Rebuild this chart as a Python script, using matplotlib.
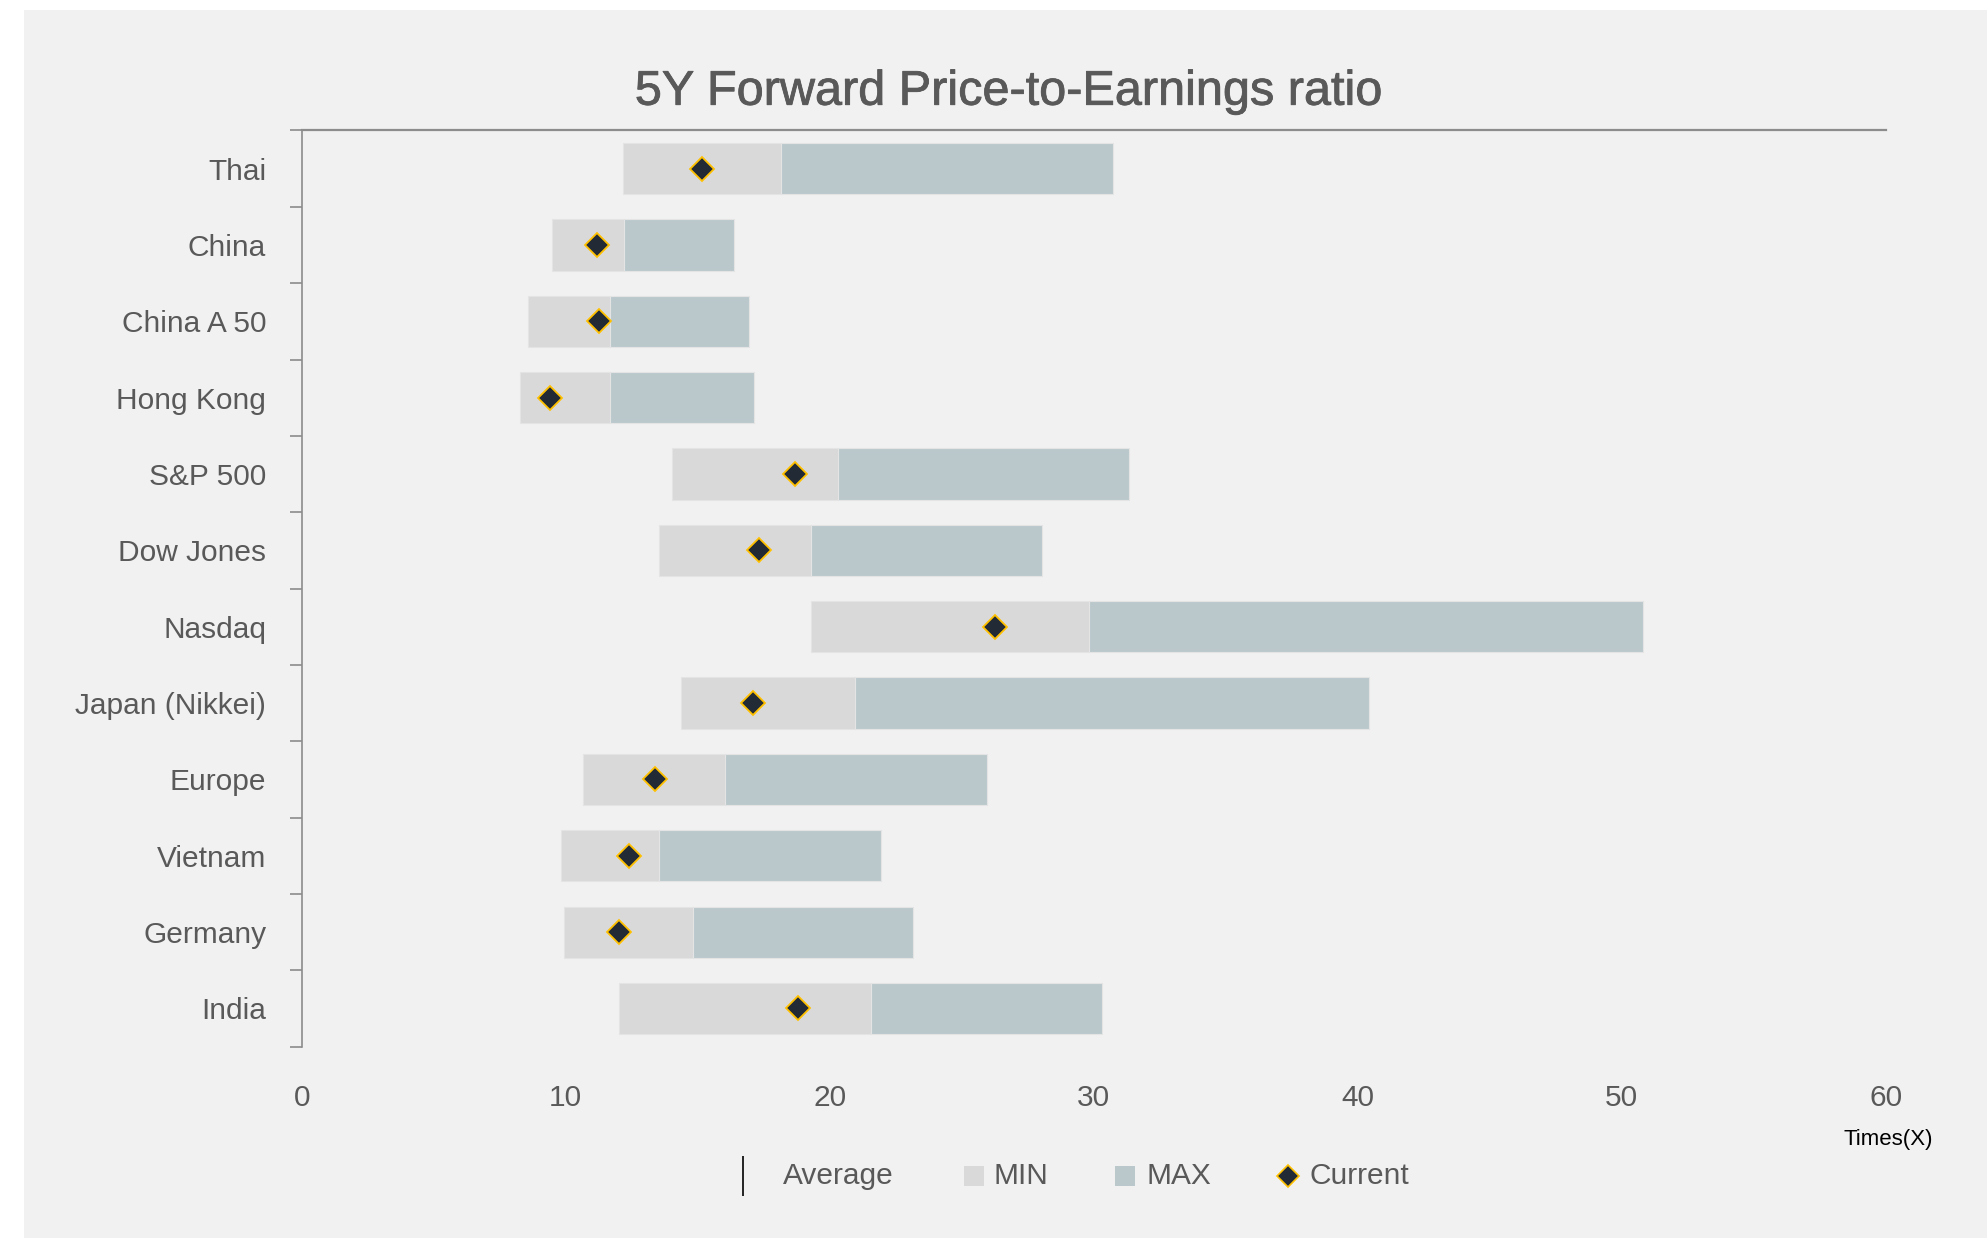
import matplotlib
matplotlib.use("Agg")
import matplotlib.pyplot as plt
from matplotlib.lines import Line2D
from matplotlib.patches import Rectangle
import matplotlib.patheffects as pe

plt.rcParams['font.family'] = ['Liberation Sans', 'DejaVu Sans']

categories = ["Thai", "China", "China A 50", "Hong Kong", "S&P 500", "Dow Jones",
              "Nasdaq", "Japan (Nikkei)", "Europe", "Vietnam", "Germany", "India"]
min_vals = [12.17, 9.48, 8.56, 8.28, 14.02, 13.54, 19.28, 14.36, 10.65, 9.83, 9.95, 12.01]
avg_vals = [18.15, 12.22, 11.67, 11.67, 20.30, 19.30, 29.84, 20.97, 16.04, 13.55, 14.82, 21.58]
max_vals = [30.72, 16.36, 16.95, 17.14, 31.34, 28.03, 50.80, 40.42, 25.95, 21.95, 23.17, 30.30]
current_vals = [15.16, 11.20, 11.25, 9.42, 18.67, 17.33, 26.27, 17.08, 13.40, 12.39, 12.01, 18.79]
x_ticks = [0, 10, 20, 30, 40, 50, 60]
legend_labels = ["Average", "MIN", "MAX", "Current"]

MIN_C = "#d9d9d9"
MAX_C = "#bac8cc"
DIA_FACE = "#222a35"
DIA_EDGE = "#ffc000"
TXT = "#595959"
BG = "#f1f1f1"
SPINE = "#8c8c8c"

fig = plt.figure(figsize=(19.87, 12.38), dpi=100, facecolor="white")
fig.patches.append(Rectangle((24 / 1987, 0), 1 - 24 / 1987, 1 - 10 / 1238,
                             transform=fig.transFigure, facecolor=BG,
                             edgecolor="none", zorder=-10))

ax = fig.add_axes([0.1518, 0.1546, 0.949 - 0.1518, 0.8946 - 0.1546])
ax.set_facecolor(BG)

y = list(range(len(categories)))
min_w = [a - m for a, m in zip(avg_vals, min_vals)]
max_w = [mx - a for mx, a in zip(max_vals, avg_vals)]
ax.barh(y, min_w, left=min_vals, height=0.67, color=MIN_C, edgecolor="#e4e4e4",
        linewidth=0.8, zorder=2)
ax.barh(y, max_w, left=avg_vals, height=0.67, color=MAX_C, edgecolor="#e4e4e4",
        linewidth=0.8, zorder=2)
ax.plot(current_vals, y, ls="none", marker="D", markersize=12.5,
        markerfacecolor=DIA_FACE, markeredgecolor=DIA_EDGE, markeredgewidth=1.3,
        zorder=4)

ax.set_xlim(0, 60)
ax.set_ylim(len(categories) - 0.5, -0.5)
ax.set_xticks(x_ticks)
ax.set_xticklabels([str(t) for t in x_ticks])
ax.set_yticks(y)
ax.set_yticklabels(categories)
ax.set_yticks([i - 0.5 for i in range(len(categories) + 1)], minor=True)

ax.tick_params(axis="y", which="major", length=0, pad=25.5, labelsize=21.5, labelcolor=TXT)
ax.tick_params(axis="y", which="minor", length=8.5, width=1.2, color=SPINE)
ax.tick_params(axis="x", which="both", length=0, pad=27, labelsize=21.5, labelcolor=TXT)

for s in ["right", "bottom"]:
    ax.spines[s].set_visible(False)
ax.spines["left"].set_color(SPINE)
ax.spines["left"].set_linewidth(1.2)
ax.spines["top"].set_color(SPINE)
ax.spines["top"].set_linewidth(1.6)

fig.text(0.5075, 0.9255, "5Y Forward Price-to-Earnings ratio", ha="center", va="center",
         fontsize=35, color=TXT,
         path_effects=[pe.withStroke(linewidth=0.6, foreground=TXT)])
fig.text(0.973, 0.0795, "Times(X)", ha="right", va="center", fontsize=16, color="black")

# Legend, built by hand so that each key sits where it does in the reference
leg_y = 0.0502
handles = [
    dict(marker="|", markersize=29, color="black", markeredgewidth=1.2),
    dict(marker="s", markersize=14.4, color=MIN_C, markeredgewidth=0),
    dict(marker="s", markersize=14.4, color=MAX_C, markeredgewidth=0),
    dict(marker="D", markersize=11, markerfacecolor=DIA_FACE,
         markeredgecolor=DIA_EDGE, markeredgewidth=1.2),
]
handle_x = [0.3737, 0.4901, 0.5663, 0.6480]
text_x = [0.3941, 0.5000, 0.5772, 0.6588]
for hx, tx, h, lab in zip(handle_x, text_x, handles, legend_labels):
    fig.add_artist(Line2D([hx], [leg_y], ls="none", transform=fig.transFigure, **h))
    fig.text(tx, leg_y, lab, ha="left", va="center", fontsize=21.5, color=TXT)

fig.savefig("out.png", dpi=100, facecolor="white")
